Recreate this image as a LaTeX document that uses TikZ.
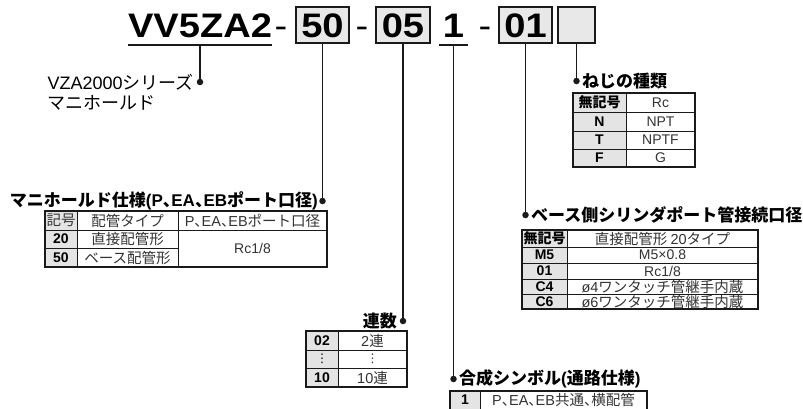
\documentclass[tikz,border=0pt]{standalone}
\usepackage{fontspec}
\setmainfont{Liberation Sans}
\newfontfamily\jpfont{Noto Sans CJK JP}
\newfontfamily\stretchfont{Liberation Sans}[FakeStretch=1.12]
\newfontfamily\symfont{DejaVu Sans}
\definecolor{ink}{HTML}{1A1A1A}
\definecolor{boxgray}{HTML}{E8E8E8}
\definecolor{cellgray}{HTML}{E4E4E4}
\definecolor{txtgray}{HTML}{333333}
\newcommand{\lat}[1]{{\rmfamily #1}}
\newcommand{\tenn}{\makebox[0.5em][l]{、}}
\newcommand{\fBigT}{\stretchfont\bfseries\fontsize{34}{34}\selectfont}
\newcommand{\fDash}{\stretchfont\fontsize{34}{34}\selectfont}
\newcommand{\fHeadB}{\jpfont\bfseries\fontsize{17}{17}\selectfont}
\newcommand{\fHeadR}{\jpfont\fontsize{18}{18}\selectfont}
\newcommand{\fCellJ}{\jpfont\fontsize{14.5}{14.5}\selectfont}
\newcommand{\fCellJB}{\jpfont\bfseries\fontsize{14}{14}\selectfont}
\newcommand{\fCellL}{\fontsize{14}{14}\selectfont}
\newcommand{\fCode}{\bfseries\fontsize{14}{14}\selectfont}
\tikzset{
  ln/.style={draw=ink, line width=1.3pt},
  dotn/.style={circle, fill=ink, inner sep=0pt, minimum size=6.5pt},
  codebox/.style={draw=ink, line width=1.3pt, fill=boxgray, inner sep=0pt,
    minimum height=36pt, text height=24pt, text depth=0pt, font=\fBigT},
  bigt/.style={font=\fBigT, inner sep=0pt},
  dasht/.style={font=\fDash, inner sep=0pt},
  headb/.style={font=\fHeadB, inner sep=0pt},
  headr/.style={font=\fHeadR, inner sep=0pt},
  cellj/.style={font=\fCellJ, text=txtgray, inner sep=0pt},
  celljb/.style={font=\fCellJB, inner sep=0pt},
  celll/.style={font=\fCellL, text=txtgray, inner sep=0pt},
  code/.style={font=\fCode, inner sep=0pt},
  tframe/.style={draw=ink, line width=1.2pt},
  tline/.style={draw=ink, line width=0.7pt},
  gfill/.style={fill=cellgray},
}
\begin{document}
\begin{tikzpicture}[x=1pt,y=-1pt]
\useasboundingbox (0,0) rectangle (803,408);

% ---------- top model code ----------
\node[bigt, anchor=base] (title) at (200,37) {VV5ZA2};
\draw[ln] (128,45) -- (272,45);
\node[dasht, anchor=base] (d1) at (281,37) {-};
\node[codebox, minimum width=53pt] (b50) at (322.5,25) {50};
\node[dasht, anchor=base] (d2) at (362,37) {-};
\node[codebox, minimum width=54pt] (b05) at (403,25) {05};
\node[bigt, anchor=base] (one) at (453.5,37) {1};
\draw[ln] (439,45) -- (468,45);
\node[dasht, anchor=base] (d3) at (485,37) {-};
\node[codebox, minimum width=53pt] (b01) at (525.5,25) {01};
\node[codebox, minimum width=37pt] (bE) at (576.5,25) {};

\coordinate (u1) at (200,45);
\coordinate (u2) at (453.5,45);

% ---------- dots ----------
\node[dotn] (p1) at (200,82) {};
\node[dotn] (p2) at (322.5,201) {};
\node[dotn] (p3) at (403,321) {};
\node[dotn] (p4) at (453.5,379) {};
\node[dotn] (p5) at (525.5,215) {};
\node[dotn] (p6) at (576.5,81) {};

% ---------- connectors ----------
\draw[ln] (u1) -- (p1);
\draw[ln] (b50.south) -- (p2);
\draw[ln] (b05.south) -- (p3);
\draw[ln] (u2) -- (p4);
\draw[ln] (b01.south) -- (p5);
\draw[ln] (bE.south) -- (p6);

% ---------- headings ----------
\node[headr, anchor=east] (h1a) at (194,82) {\lat{VZA2000}シリーズ};
\node[headr, anchor=west] (h1b) at (h1a.west |- 0,103) {マニホールド};
\node[headb, anchor=east] (h2) at (318,201) {マニホールド仕様\lat{(P}\tenn\lat{EA}\tenn\lat{EB}ポート口径\lat{)}};
\node[headb, anchor=east] (h3) at (397,321) {連数};
\node[headb, anchor=west] (h4) at (459,379) {合成シンボル\lat{(}通路仕様\lat{)}};
\node[headb, anchor=west] (h5) at (531,215) {ベース側シリンダポート管接続口径};
\node[headb, anchor=west] (h6) at (582,81) {ねじの種類};

% ---------- table: ねじの種類 ----------
\fill[gfill] (573,93) rectangle (626,167);
\draw[tline] (573,112) -- (695,112) (573,131) -- (695,131) (573,149) -- (695,149);
\draw[tline] (626,93) -- (626,167);
\draw[tframe] (573,93) rectangle (695,167);
\node[celljb] (ta1) at (599.5,102.5) {無記号};
\node[celll]  (ta2) at (660.5,102.5) {Rc};
\node[code]   (ta3) at (599.5,121.5) {N};
\node[celll]  (ta4) at (660.5,121.5) {NPT};
\node[code]   (ta5) at (599.5,140) {T};
\node[celll]  (ta6) at (660.5,140) {NPTF};
\node[code]   (ta7) at (599.5,158) {F};
\node[celll]  (ta8) at (660.5,158) {G};

% ---------- table: マニホールド仕様 ----------
\fill[gfill] (45,211) rectangle (77,267);
\draw[tline] (45,230) -- (327,230) (45,248) -- (178,248);
\draw[tline] (77,211) -- (77,267) (178,211) -- (178,267);
\draw[tframe] (45,211) rectangle (327,267);
\node[cellj]  (tb1) at (61,220.5) {記号};
\node[cellj]  (tb2) at (127.5,220.5) {配管タイプ};
\node[cellj]  (tb3) at (252.5,220.5) {\lat{P}\tenn\lat{EA}\tenn\lat{EB}ポート口径};
\node[code]   (tb4) at (61,239) {20};
\node[cellj]  (tb5) at (127.5,239) {直接配管形};
\node[code]   (tb6) at (61,257.5) {50};
\node[cellj]  (tb7) at (127.5,257.5) {ベース配管形};
\node[celll]  (tb8) at (252.5,248) {Rc1/8};

% ---------- table: 連数 ----------
\fill[gfill] (306,331) rectangle (338,387);
\draw[tline] (306,350) -- (407,350) (306,368) -- (407,368);
\draw[tline] (338,331) -- (338,387);
\draw[tframe] (306,331) rectangle (407,387);
\node[code]  (tc1) at (322,340.5) {02};
\node[cellj] (tc2) at (372.5,340.5) {\lat{2}連};
\node[font=\symfont\fontsize{12}{12}\selectfont, inner sep=0pt] (tc3) at (322,359) {⋮};
\node[font=\symfont\fontsize{12}{12}\selectfont, text=txtgray, inner sep=0pt] (tc4) at (372.5,359) {⋮};
\node[code]  (tc5) at (322,377.5) {10};
\node[cellj] (tc6) at (372.5,377.5) {\lat{10}連};

% ---------- table: ベース側シリンダポート管接続口径 ----------
\fill[gfill] (522,230) rectangle (567,309);
\draw[tline] (522,247) -- (758,247) (522,263) -- (758,263) (522,279) -- (758,279) (522,294) -- (758,294);
\draw[tline] (567,230) -- (567,309);
\draw[tframe] (522,230) rectangle (758,309);
\node[celljb] (td1) at (544.5,238.5) {無記号};
\node[cellj]  (td2) at (662.5,238.5) {直接配管形 \lat{20}タイプ};
\node[code]   (td3) at (544.5,255) {M5};
\node[celll]  (td4) at (662.5,255) {M5×0.8};
\node[code]   (td5) at (544.5,271) {01};
\node[celll]  (td6) at (662.5,271) {Rc1/8};
\node[code]   (td7) at (544.5,286.5) {C4};
\node[cellj]  (td8) at (662.5,286.5) {\lat{ø4}ワンタッチ管継手内蔵};
\node[code]   (td9) at (544.5,301.5) {C6};
\node[cellj]  (td10) at (662.5,301.5) {\lat{ø6}ワンタッチ管継手内蔵};

% ---------- table: 合成シンボル ----------
\fill[gfill] (450,391) rectangle (480,412);
\draw[tline] (480,391) -- (480,412);
\draw[tframe] (450,391) rectangle (647,412);
\node[code]  (te1) at (465,399.5) {1};
\node[cellj] (te2) at (563.5,399.5) {\lat{P}\tenn\lat{EA}\tenn\lat{EB}共通\tenn 横配管};
\end{tikzpicture}
\end{document}
